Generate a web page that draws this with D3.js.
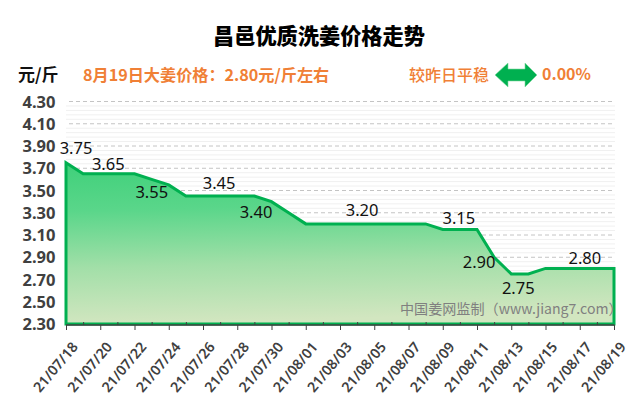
<!DOCTYPE html>
<html><head><meta charset="utf-8">
<script src="https://cdn.jsdelivr.net/npm/d3@7/dist/d3.min.js"></script>
<style>html,body{margin:0;padding:0;background:#fff}svg{display:block}
text{font-family:"Noto Sans","Noto Sans CJK SC",sans-serif}</style></head><body>
<svg id="c" width="640" height="410"></svg>
<script>
const dates=["21/07/18","21/07/19","21/07/20","21/07/21","21/07/22","21/07/23","21/07/24","21/07/25","21/07/26","21/07/27","21/07/28","21/07/29","21/07/30","21/07/31","21/08/01","21/08/02","21/08/03","21/08/04","21/08/05","21/08/06","21/08/07","21/08/08","21/08/09","21/08/10","21/08/11","21/08/12","21/08/13","21/08/14","21/08/15","21/08/16","21/08/17","21/08/18","21/08/19"];
const prices=[3.75,3.65,3.65,3.65,3.65,3.60,3.55,3.45,3.45,3.45,3.45,3.45,3.40,3.30,3.20,3.20,3.20,3.20,3.20,3.20,3.20,3.20,3.15,3.15,3.15,2.90,2.75,2.75,2.80,2.80,2.80,2.80,2.80];
const yTicks=[2.3,2.5,2.7,2.9,3.1,3.3,3.5,3.7,3.9,4.1,4.3];
const minorTicks=d3.range(2.34,4.3,0.04).map(v=>+v.toFixed(2)).filter(v=>Math.round(v*100)%20!==10);
const labelledDates=["21/07/18","21/07/20","21/07/24","21/07/27","21/07/30","21/08/04","21/08/10","21/08/12","21/08/13","21/08/18"];
const labelDx=[10,8,-17,-1,-15.5,5,-1,-15,7,-12];
const labelDy=[-15,-10,7,-13,10,-14,-11,5,14,-10];

const svg=d3.select("#c");
const x=d3.scalePoint().domain(dates).range([66,614]);
const y=d3.scaleLinear().domain([2.3,4.3]).range([324,101.5]);

const defs=svg.append("defs");
const g=defs.append("linearGradient").attr("id","grad").attr("x1",0).attr("y1",0).attr("x2",0.08).attr("y2",1);
[[0,"#3fd07a"],[0.3,"#5ad68a"],[0.65,"#a2dfa8"],[1,"#d2e6c0"]].forEach(s=>g.append("stop").attr("offset",s[0]).attr("stop-color",s[1]));

svg.append("g").selectAll("line").data(minorTicks).join("line")
 .attr("x1",66).attr("x2",615).attr("y1",d=>y(d)).attr("y2",d=>y(d)).attr("stroke","#f0f0f0").attr("stroke-width",1);
svg.append("g").selectAll("line").data(yTicks.slice(1)).join("line")
 .attr("x1",69).attr("x2",613).attr("y1",d=>y(d)).attr("y2",d=>y(d)).attr("stroke","#c4c4c4").attr("stroke-dasharray","4,3");

const base=d3.area().x((d,i)=>x(dates[i])).y0(y(2.3)).y1(d=>y(d));
svg.append("path").datum(prices).attr("d",base).attr("fill","url(#grad)");
const edge=d3.line().x(d=>x(d[0])).y(d=>y(d[1]));
const outline=[[dates[0],2.3]].concat(dates.map((d,i)=>[d,prices[i]]),[[dates[dates.length-1],2.3]]);
svg.append("path").datum(outline).attr("d",d=>edge(d)+"Z").attr("fill","none").attr("stroke","#00b050").attr("stroke-width",3).attr("stroke-linejoin","miter");

const xAxis=d3.axisBottom(x).tickValues(dates).tickFormat("");
const ax=svg.append("g").attr("transform",`translate(0,${y(2.3)+1})`).call(xAxis);
ax.select(".domain").attr("stroke","#404040").attr("stroke-width",1.6).attr("d",`M${x(dates[0])},0H${x(dates[dates.length-1])+0.5}`);
ax.selectAll(".tick line").attr("stroke","#404040").attr("y1",(d,i)=>i%2?-3:0).attr("y2",(d,i)=>i%2?0:5);

svg.append("g").selectAll("text").data(yTicks).join("text")
 .attr("x",55.5).attr("y",d=>y(d)+6).attr("text-anchor","end").attr("font-size",16.5).attr("font-weight",700).attr("fill","#404040").text(d=>d.toFixed(2));

svg.append("g").selectAll("text").data(dates.filter((d,i)=>i%2==0)).join("text")
 .attr("transform",d=>`translate(${x(d)+5},${341}) rotate(-50)`).attr("text-anchor","end").attr("dy","0.7em")
 .attr("font-size",14.2).attr("font-weight",600).attr("fill","#404040").text(d=>d);

svg.append("g").selectAll("text").data(labelledDates).join("text")
 .attr("x",(d,i)=>x(d)+labelDx[i]).attr("y",(d,i)=>y(prices[dates.indexOf(d)])+labelDy[i]).attr("dy","0.36em")
 .attr("text-anchor","middle").attr("font-size",16.5).attr("fill","#111").text(d=>prices[dates.indexOf(d)].toFixed(2));

const cjk='"Noto Sans CJK SC","Noto Sans",sans-serif';
svg.append("text").attr("x",319).attr("y",44).attr("text-anchor","middle").attr("font-size",21.2).attr("font-weight",900).style("font-family",cjk).attr("fill","#000").text("昌邑优质洗姜价格走势");
svg.append("text").attr("x",18).attr("y",81).attr("font-size",17).attr("font-weight",700).style("font-family",cjk).attr("fill","#111").text("元/斤");
svg.append("text").attr("x",83).attr("y",81).attr("font-size",16.15).attr("font-weight",700).style("font-family",cjk).attr("fill","#f08036").text("8月19日大姜价格：2.80元/斤左右");
svg.append("text").attr("x",409).attr("y",81).attr("font-size",16).attr("font-weight",500).style("font-family",cjk).attr("fill","#f08036").text("较昨日平稳");
svg.append("text").attr("x",542).attr("y",80).attr("font-size",16).attr("font-weight",700).style("font-family",cjk).attr("fill","#f08036").text("0.00%");
svg.append("path").attr("d",d3.line()([[495,75],[508,63],[508,69],[525,69],[525,63],[537,75],[525,87],[525,81],[508,81],[508,87]])+"Z").attr("fill","#00b050").attr("stroke","#7fd8a0").attr("stroke-width",0.6);
svg.append("text").attr("x",400).attr("y",314).attr("font-size",14.1).style("font-family",cjk).attr("fill","#808080").text("中国姜网监制（www.jiang7.com）");
</script></body></html>
